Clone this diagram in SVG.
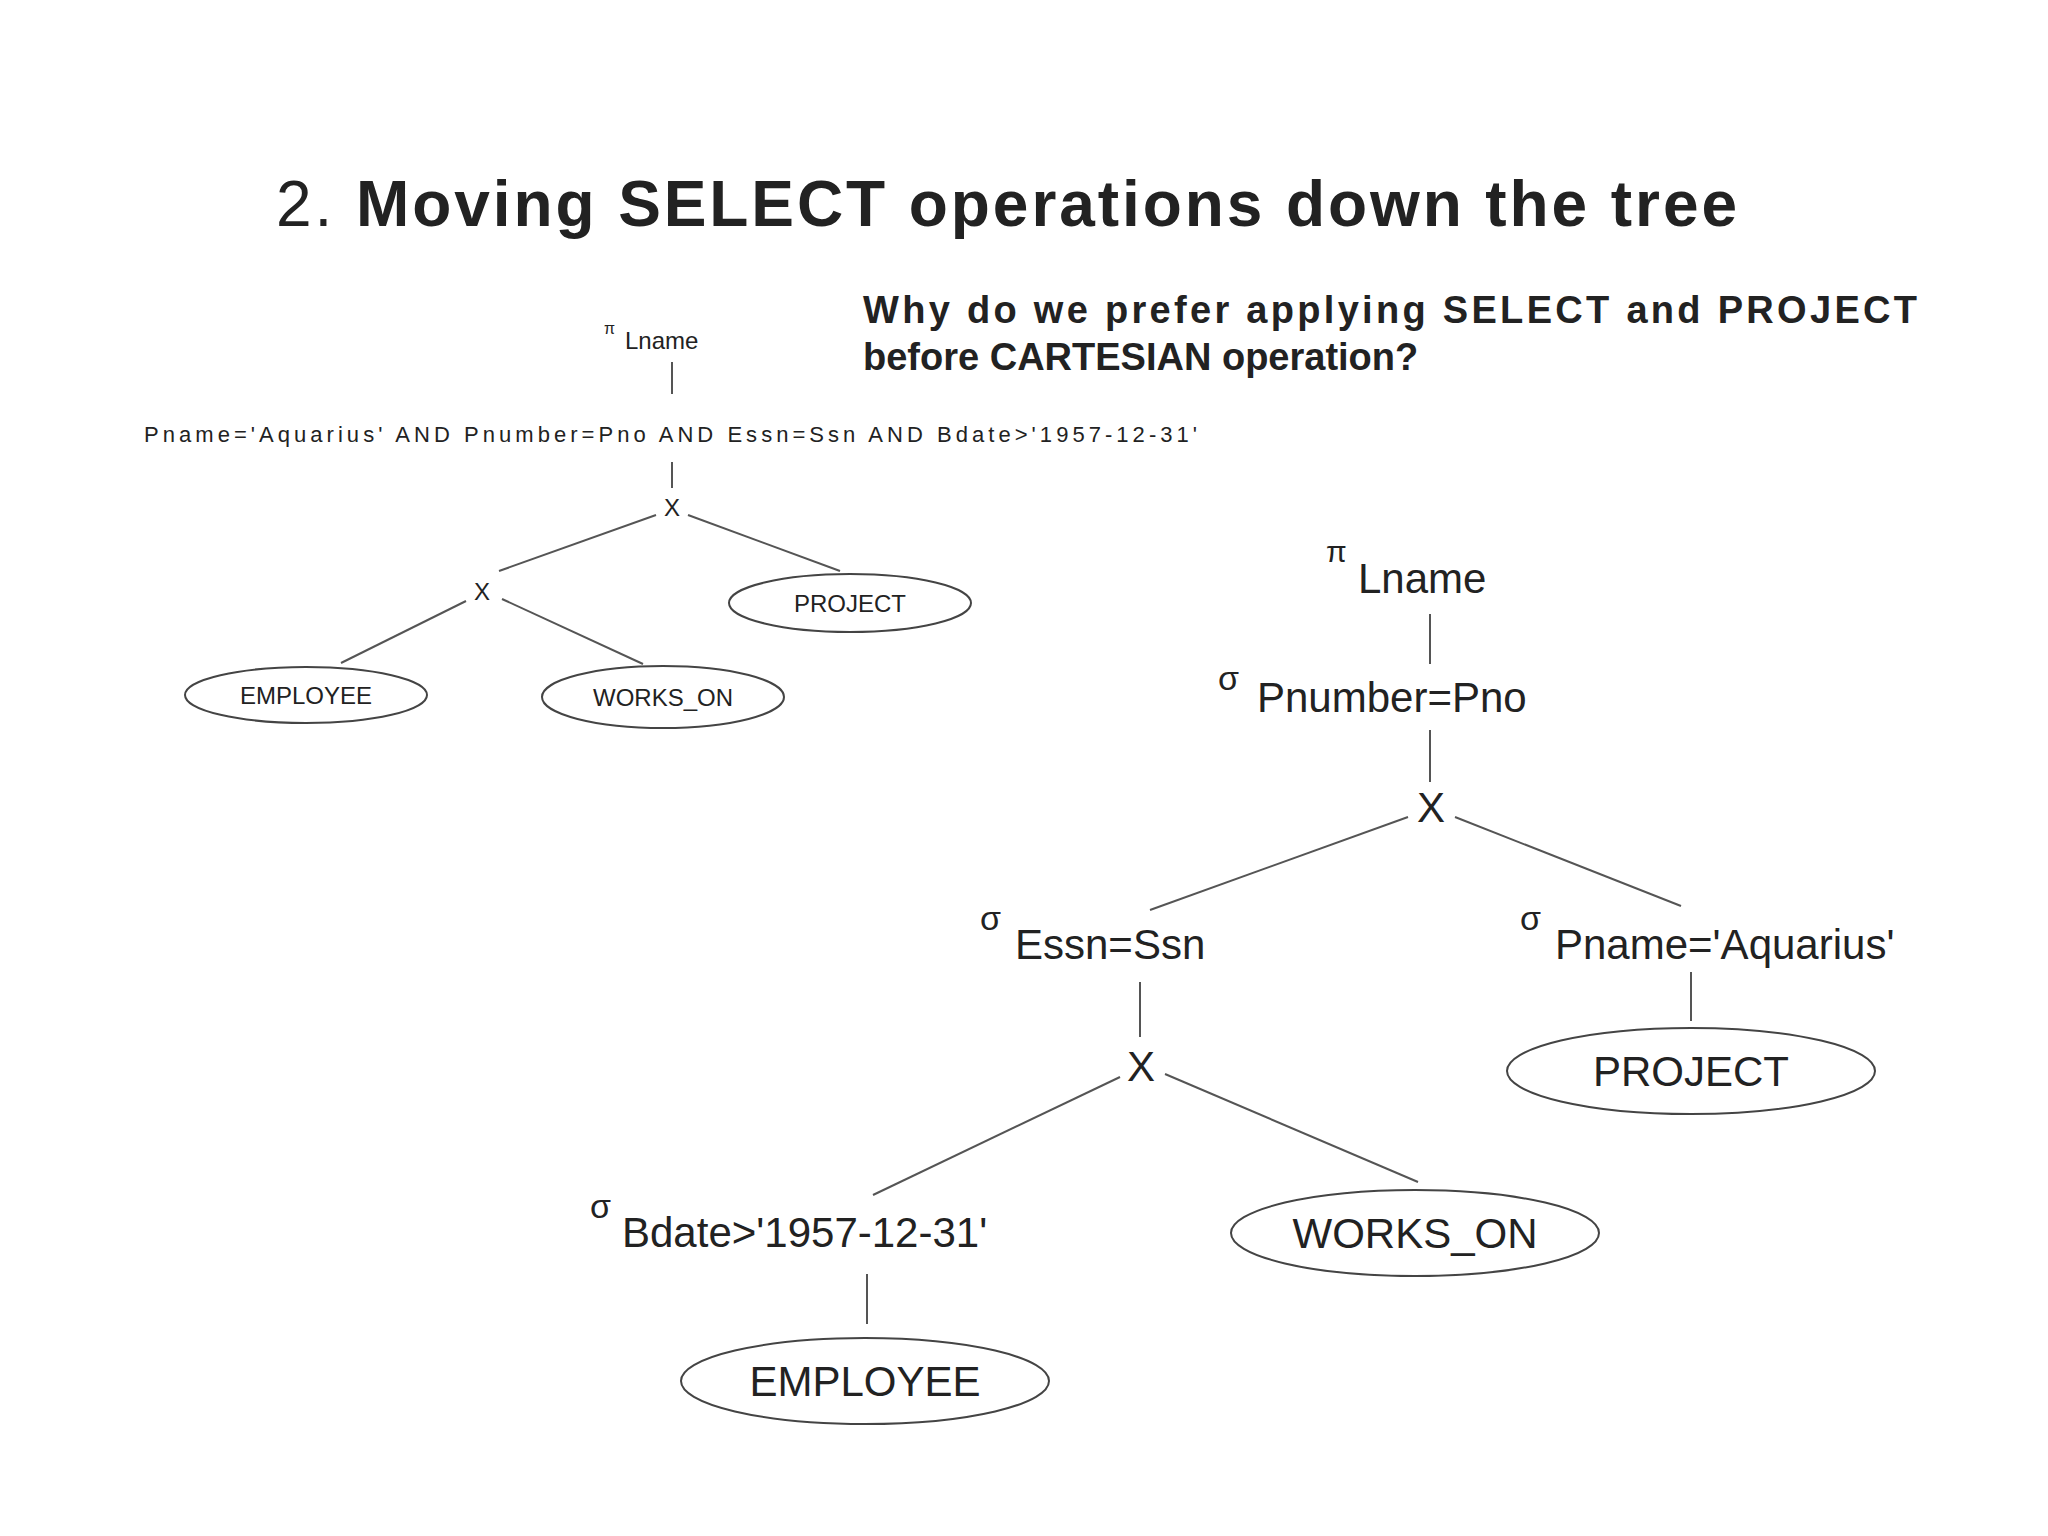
<svg xmlns="http://www.w3.org/2000/svg" width="2048" height="1536" viewBox="0 0 2048 1536">
<style>
text{font-family:"Liberation Sans",Arial,sans-serif;fill:#222}
.e{fill:#fff;stroke:#444;stroke-width:2}
.c line{stroke:#555;stroke-width:2}
.s{font-size:24px}
.b{font-size:42px}
.t{text-anchor:middle}
</style>
<rect width="2048" height="1536" fill="#fff"/>
<text x="276" y="226" font-size="64" textLength="1461"><tspan>2. </tspan><tspan font-weight="bold">Moving SELECT operations down the tree</tspan></text>
<text x="863" y="323" font-size="38" font-weight="bold" textLength="1054">Why do we prefer applying SELECT and PROJECT</text>
<text x="863" y="370" font-size="38" font-weight="bold">before CARTESIAN operation?</text>
<g class="c" id="connectors">
<line x1="672" y1="362" x2="672" y2="394"/>
<line x1="672" y1="462" x2="672" y2="488"/>
<line x1="656" y1="515" x2="499" y2="571"/>
<line x1="688" y1="515" x2="840" y2="571"/>
<line x1="466" y1="601" x2="341" y2="663"/>
<line x1="502" y1="599" x2="643" y2="664"/>
<line x1="1430" y1="614" x2="1430" y2="664"/>
<line x1="1430" y1="730" x2="1430" y2="782"/>
<line x1="1408" y1="817" x2="1150" y2="910"/>
<line x1="1455" y1="817" x2="1681" y2="906"/>
<line x1="1140" y1="982" x2="1140" y2="1037"/>
<line x1="1691" y1="972" x2="1691" y2="1021"/>
<line x1="1120" y1="1077" x2="873" y2="1195"/>
<line x1="1165" y1="1074" x2="1418" y2="1182"/>
<line x1="867" y1="1274" x2="867" y2="1324"/>
</g>
<g id="l-proj"><text x="604" y="334" font-size="16">π</text><text x="625" y="349" class="s">Lname</text></g>
<g id="l-sel"><text x="144" y="442" font-size="22" textLength="1053">Pname='Aquarius' AND Pnumber=Pno AND Essn=Ssn AND Bdate&gt;'1957-12-31'</text></g>
<g id="l-x1"><text x="672" y="516" class="s t">X</text></g>
<g id="l-x2"><text x="482" y="600" class="s t">X</text></g>
<g id="l-project"><ellipse class="e" cx="850" cy="603" rx="121" ry="29"/><text x="850" y="612" class="s t">PROJECT</text></g>
<g id="l-employee"><ellipse class="e" cx="306" cy="695" rx="121" ry="28"/><text x="306" y="704" class="s t">EMPLOYEE</text></g>
<g id="l-works"><ellipse class="e" cx="663" cy="697" rx="121" ry="31"/><text x="663" y="706" class="s t">WORKS_ON</text></g>
<g id="r-proj"><text x="1326" y="562" font-size="30">π</text><text x="1358" y="593" class="b">Lname</text></g>
<g id="r-sel1"><text x="1218" y="690" font-size="34">σ</text><text x="1257" y="712" class="b">Pnumber=Pno</text></g>
<g id="r-x1"><text x="1431" y="822" class="b t">X</text></g>
<g id="r-sel2"><text x="980" y="930" font-size="34">σ</text><text x="1015" y="959" class="b">Essn=Ssn</text></g>
<g id="r-sel3"><text x="1520" y="930" font-size="34">σ</text><text x="1555" y="959" class="b">Pname='Aquarius'</text></g>
<g id="r-x2"><text x="1141" y="1081" class="b t">X</text></g>
<g id="r-project"><ellipse class="e" cx="1691" cy="1071" rx="184" ry="43"/><text x="1691" y="1086" class="b t">PROJECT</text></g>
<g id="r-sel4"><text x="590" y="1218" font-size="34">σ</text><text x="622" y="1247" class="b">Bdate&gt;'1957-12-31'</text></g>
<g id="r-works"><ellipse class="e" cx="1415" cy="1233" rx="184" ry="43"/><text x="1415" y="1248" class="b t">WORKS_ON</text></g>
<g id="r-employee"><ellipse class="e" cx="865" cy="1381" rx="184" ry="43"/><text x="865" y="1396" class="b t">EMPLOYEE</text></g>
</svg>
